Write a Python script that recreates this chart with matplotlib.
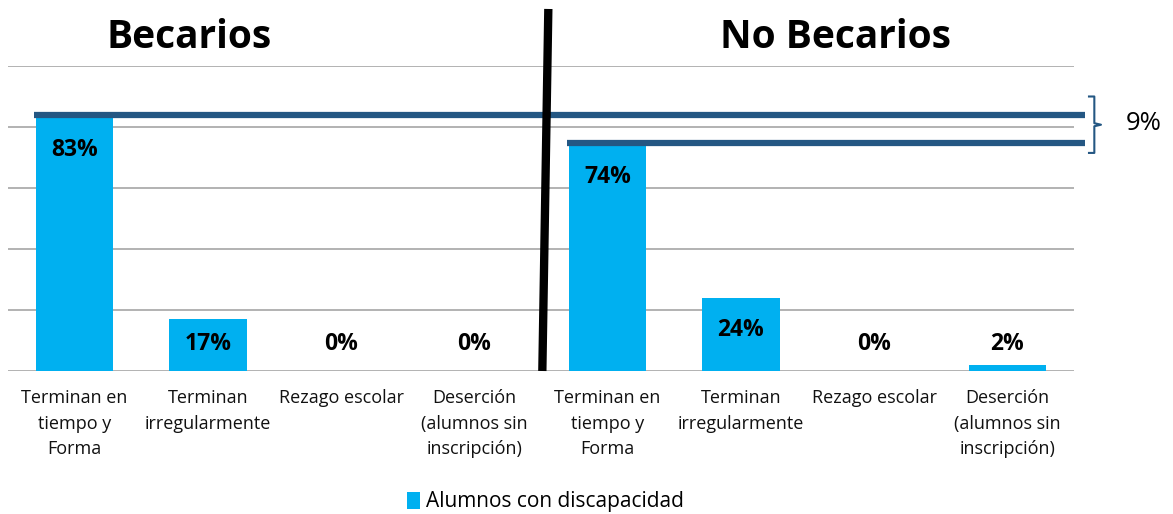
import matplotlib.pyplot as plt
import numpy as np

plt.rcParams['font.family'] = ['Open Sans', 'DejaVu Sans']

# datos
categorias = ["Terminan en\ntiempo y\nForma", "Terminan\nirregularmente", "Rezago escolar",
              "Deserción\n(alumnos sin\ninscripción)"] * 2
valores = [83, 17, 0, 0, 74, 24, 0, 2]
grupos = ["Becarios", "No Becarios"]
diferencia = "9%"
serie = "Alumnos con discapacidad"

azul = "#00B0F0"
azul_osc = "#245783"

fig = plt.figure(figsize=(11.73, 5.14), dpi=100)
ax = fig.add_axes([8 / 1173, 1 - 371 / 514, 1066 / 1173, 305 / 514])

x = np.arange(len(valores))
bars = ax.bar(x, valores, width=0.58, color=azul, label=serie, zorder=2)

ax.set_xlim(-0.5, len(valores) - 0.5)
ax.set_ylim(0, 100)
ax.set_yticks([0, 20, 40, 60, 80, 100])
ax.set_yticklabels([])
ax.tick_params(axis='y', length=0)
ax.grid(axis='y', color='#a6a6a6', linewidth=1.2, zorder=0)
for s in ax.spines.values():
    s.set_visible(False)

ax.set_xticks(x)
ax.set_xticklabels(categorias, fontsize=13, linespacing=1.55, color='#111111')
ax.tick_params(axis='x', length=0, pad=13)

# etiquetas de valor
for xi, v in zip(x, valores):
    ax.text(xi, max(v - 10.5, 9), f"{v}%", ha='center', va='center',
            fontsize=16.5, fontweight='bold', zorder=3)

# lineas de referencia al nivel de la primera barra de cada grupo
fin = len(valores) - 0.5 + 11 / 133.25
for i in (0, 4):
    ax.plot([x[i] - 0.29 - 2 / 133.25, fin], [valores[i] + 0.8, valores[i] + 0.8],
            color=azul_osc, linewidth=4.5, solid_capstyle='butt', clip_on=False, zorder=4)

# llave con la diferencia
xb = fin + 4 / 133.25
yb0, yb1 = valores[4] - 2.5, valores[0] + 7
ax.plot([xb, xb + 0.04, xb + 0.04, xb + 0.09, xb + 0.04, xb + 0.04, xb],
        [yb1, yb1, (yb0 + yb1) / 2 + 0.5, (yb0 + yb1) / 2, (yb0 + yb1) / 2 - 0.5, yb0, yb0],
        color=azul_osc, linewidth=1.5, clip_on=False)
ax.text(xb + 0.41, (yb0 + yb1) / 2 + 0.5, diferencia, ha='center', va='center', fontsize=18.5)

# separador entre grupos
ax.plot([3.5 + 0.01, 3.5 + 0.055], [0, 118.7], color='black', linewidth=6,
        solid_capstyle='butt', clip_on=False, zorder=5)

# titulos
fig.text(189 / 1173, 1 - 38 / 514, grupos[0], ha='center', va='center', fontsize=28, fontweight='bold')
fig.text(836 / 1173, 1 - 38 / 514, grupos[1], ha='center', va='center', fontsize=28, fontweight='bold')

ax.legend(loc='center left', bbox_to_anchor=(407 / 1173, 1 - 502 / 514), bbox_transform=fig.transFigure,
          frameon=False, fontsize=15, handlelength=0.6, handleheight=0.9, handletextpad=0.3,
          borderaxespad=0, borderpad=0)

fig.savefig("out.png", dpi=100)
